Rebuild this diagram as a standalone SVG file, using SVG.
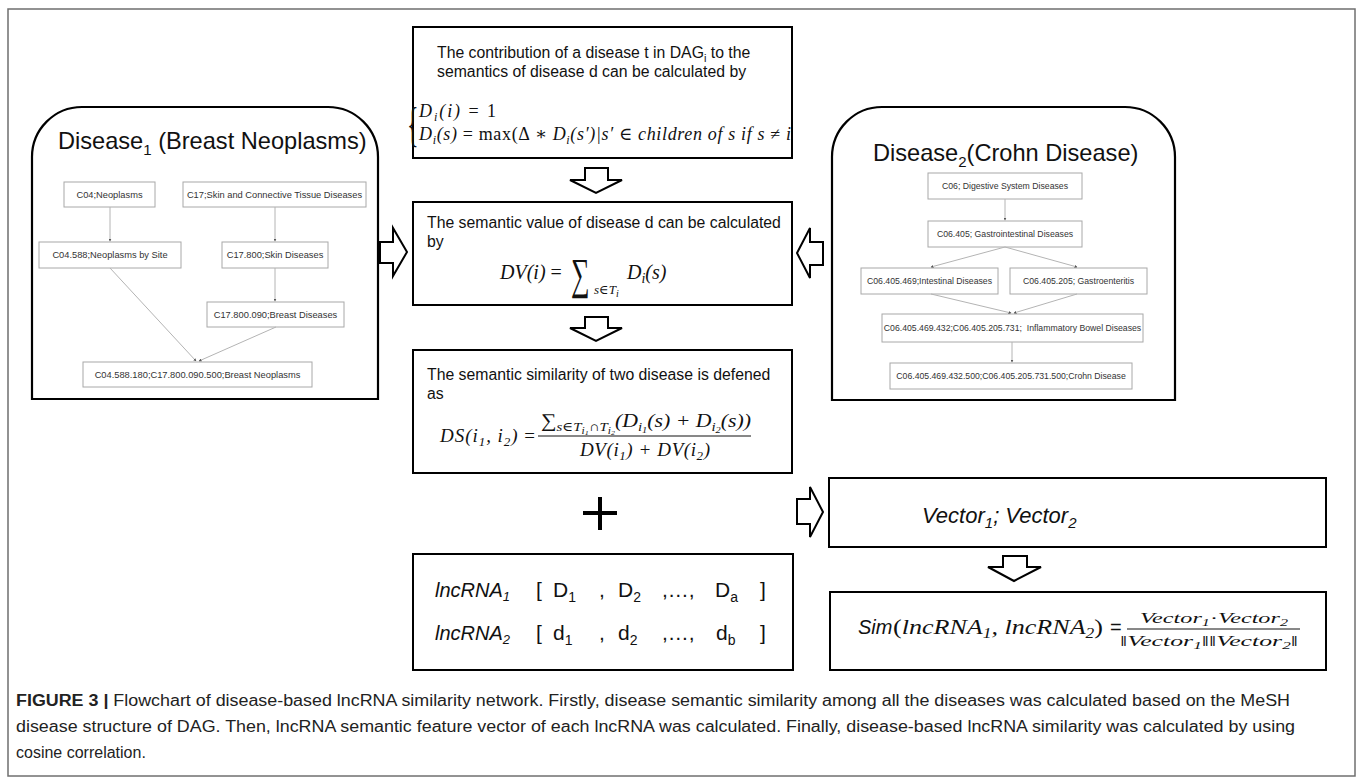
<svg xmlns="http://www.w3.org/2000/svg" width="1360" height="782" viewBox="0 0 1360 782">
<defs>
<style>
.frame{fill:none;stroke:#6f6f6f;stroke-width:1.5}
.box{fill:#fff;stroke:#000;stroke-width:2}
.rbox{fill:#fff;stroke:#000;stroke-width:2.2}
.node{fill:#fff;stroke:#a8a8a8;stroke-width:1}
.nt{font-family:"Liberation Sans",Arial,sans-serif;font-size:9.3px;fill:#333;text-anchor:middle}
.nt2{font-family:"Liberation Sans",Arial,sans-serif;font-size:8.7px;fill:#333;text-anchor:middle}
.edge{stroke:#b4b4b4;stroke-width:1;fill:none;marker-end:url(#tip)}
.arrow{fill:#fff;stroke:#000;stroke-width:2;stroke-linejoin:miter}
.t16{font-family:"Liberation Sans",Arial,sans-serif;font-size:15.8px;fill:#111}
.title{font-family:"Liberation Sans",Arial,sans-serif;font-size:23.6px;fill:#111}
.m{font-family:"Liberation Serif","DejaVu Serif",serif;font-style:italic;fill:#111}
.up{font-style:normal}
.ai{font-family:"Liberation Sans",Arial,sans-serif;font-style:italic;fill:#111}
.as{font-family:"Liberation Sans",Arial,sans-serif;fill:#111}
.cap{font-family:"Liberation Sans",Arial,sans-serif;font-size:16px;fill:#222}
</style>
<marker id="tip" viewBox="0 0 6 6" refX="5" refY="3" markerWidth="3" markerHeight="3" orient="auto">
<path d="M0,0 L6,3 L0,6 Z" fill="#555"/>
</marker>
</defs>
<rect width="1360" height="782" fill="#fff"/>
<rect class="frame" x="8" y="9" width="1347" height="767"/>

<g id="disease1">
<path class="rbox" d="M32,399 L32,157 A50,50 0 0 1 82,107 L328,107 A50,50 0 0 1 378,157 L378,399 Z"/>
<text class="title" x="58" y="149">Disease<tspan font-size="15" dy="6">1</tspan><tspan dy="-6"> (Breast Neoplasms)</tspan></text>
<g id="d1n1"><rect class="node" x="64" y="182" width="91" height="25"/><text class="nt" x="109.5" y="198">C04;Neoplasms</text></g>
<g id="d1n2"><rect class="node" x="183" y="182" width="183" height="25"/><text class="nt" x="274.5" y="198">C17;Skin and Connective Tissue Diseases</text></g>
<g id="d1n3"><rect class="node" x="39" y="242" width="142" height="26"/><text class="nt" x="110" y="258">C04.588;Neoplasms by Site</text></g>
<g id="d1n4"><rect class="node" x="222" y="242" width="106" height="26"/><text class="nt" x="275" y="258">C17.800;Skin Diseases</text></g>
<g id="d1n5"><rect class="node" x="207" y="302" width="137" height="25"/><text class="nt" x="275.5" y="318">C17.800.090;Breast Diseases</text></g>
<g id="d1n6"><rect class="node" x="83" y="362" width="229" height="25"/><text class="nt" x="197.5" y="378">C04.588.180;C17.800.090.500;Breast Neoplasms</text></g>
</g>

<g id="disease2">
<path class="rbox" d="M832,400 L832,157 A50,50 0 0 1 882,107 L1125,107 A50,50 0 0 1 1175,157 L1175,400 Z"/>
<text class="title" x="873" y="161">Disease<tspan font-size="15" dy="6">2</tspan><tspan dy="-6">(Crohn Disease)</tspan></text>
<g id="d2n1"><rect class="node" x="928" y="173" width="154" height="26"/><text class="nt2" x="1005" y="189">C06; Digestive System Diseases</text></g>
<g id="d2n2"><rect class="node" x="928" y="221" width="154" height="26"/><text class="nt2" x="1005" y="237">C06.405; Gastrointestinal Diseases</text></g>
<g id="d2n3"><rect class="node" x="861" y="268" width="137" height="26"/><text class="nt2" x="929.5" y="284">C06.405.469;Intestinal Diseases</text></g>
<g id="d2n4"><rect class="node" x="1010" y="268" width="137" height="26"/><text class="nt2" x="1078.5" y="284">C06.405.205; Gastroenteritis</text></g>
<g id="d2n5"><rect class="node" x="882" y="314" width="261" height="28"/><text class="nt2" x="1012.5" y="331" xml:space="preserve">C06.405.469.432;C06.405.205.731;  Inflammatory Bowel Diseases</text></g>
<g id="d2n6"><rect class="node" x="890" y="363" width="242" height="26"/><text class="nt2" x="1011" y="379">C06.405.469.432.500;C06.405.205.731.500;Crohn Disease</text></g>
</g>

<g id="contribution">
<rect class="box" x="413" y="27" width="379" height="131"/>
<text class="t16" x="437" y="58" font-size="15.2">The contribution of a disease t in DAG<tspan font-size="11" dy="4">i</tspan><tspan dy="-4"> to the</tspan></text>
<text class="t16" x="437" y="77" font-size="15.2">semantics of disease d can be calculated by</text>
<text transform="translate(407,141) scale(0.5,1)" font-family="Liberation Serif,serif" font-size="48" fill="#111">{</text>
<text class="m" x="419" y="117" font-size="18" textLength="77" lengthAdjust="spacing">D<tspan font-size="12" dy="4">i</tspan><tspan dy="-4">(i) </tspan><tspan class="up">= 1</tspan></text>
<text class="m" x="419" y="140" font-size="18" textLength="372" lengthAdjust="spacing">D<tspan font-size="12" dy="4">i</tspan><tspan dy="-4">(s) </tspan><tspan class="up">= max(Δ ∗ </tspan>D<tspan font-size="12" dy="4">i</tspan><tspan dy="-4">(s′)|s′ </tspan><tspan class="up">∈ </tspan>children of s  if s <tspan class="up">≠ </tspan>i</text>
</g>

<g id="semantic-value">
<rect class="box" x="413" y="202" width="379" height="103"/>
<text class="t16" x="427" y="228">The semantic value of disease d can be calculated</text>
<text class="t16" x="427" y="247">by</text>
<text class="m" x="500" y="279" font-size="20">DV(i) <tspan class="up">=</tspan></text>
<text transform="translate(571,289) scale(0.62,1.05)" font-family="Liberation Serif,DejaVu Serif,serif" font-size="42" fill="#111">∑</text>
<text class="m" x="594" y="294" font-size="13">s∈T<tspan font-size="10" dy="3">i</tspan></text>
<text class="m" x="627" y="279" font-size="20">D<tspan font-size="14" dy="4">i</tspan><tspan dy="-4">(s)</tspan></text>
</g>

<g id="semantic-similarity">
<rect class="box" x="413" y="350" width="379" height="123"/>
<text class="t16" x="427" y="380">The semantic similarity of two disease is defened</text>
<text class="t16" x="427" y="399">as</text>
<text class="m" x="440" y="442" font-size="19" textLength="95" lengthAdjust="spacing">DS(i<tspan font-size="13" dy="4">1</tspan><tspan dy="-4">, i</tspan><tspan font-size="13" dy="4">2</tspan><tspan dy="-4">) </tspan><tspan class="up">=</tspan></text>
<text class="m" x="541" y="427" font-size="19" textLength="210" lengthAdjust="spacingAndGlyphs">∑<tspan font-size="13" dy="4">s∈T</tspan><tspan font-size="10" dy="3">i</tspan><tspan font-size="7" dy="1">1</tspan><tspan font-size="13" dy="-4">∩T</tspan><tspan font-size="10" dy="3">i</tspan><tspan font-size="7" dy="1">2</tspan><tspan dy="-8">(D</tspan><tspan font-size="13" dy="4">i</tspan><tspan font-size="9" dy="2">1</tspan><tspan dy="-6">(s) + D</tspan><tspan font-size="13" dy="4">i</tspan><tspan font-size="9" dy="2">2</tspan><tspan dy="-6">(s))</tspan></text>
<line x1="538" y1="436" x2="751" y2="436" stroke="#111" stroke-width="1"/>
<text class="m" x="580" y="456" font-size="19" textLength="130" lengthAdjust="spacing">DV(i<tspan font-size="13" dy="4">1</tspan><tspan dy="-4">) + DV(i</tspan><tspan font-size="13" dy="4">2</tspan><tspan dy="-4">)</tspan></text>
</g>

<g id="plus">
<line x1="583" y1="513" x2="617" y2="513" stroke="#000" stroke-width="4"/>
<line x1="600" y1="497" x2="600" y2="530" stroke="#000" stroke-width="4"/>
</g>

<g id="lncrna-vectors">
<rect class="box" x="413" y="554" width="380" height="116"/>
<text class="ai" x="435" y="597" font-size="20">lncRNA<tspan font-size="13" dy="4">1</tspan></text>
<text class="as" y="597" font-size="21"><tspan x="536">[</tspan><tspan x="553">D</tspan><tspan font-size="14" dy="5">1</tspan><tspan x="599" dy="-5">,</tspan><tspan x="618">D</tspan><tspan font-size="14" dy="5">2</tspan><tspan x="662" dy="-5">,…,</tspan><tspan x="715">D</tspan><tspan font-size="14" dy="5">a</tspan><tspan x="760" dy="-5">]</tspan></text>
<text class="ai" x="435" y="640" font-size="20">lncRNA<tspan font-size="13" dy="4">2</tspan></text>
<text class="as" y="640" font-size="21"><tspan x="536">[</tspan><tspan x="553">d</tspan><tspan font-size="14" dy="5">1</tspan><tspan x="599" dy="-5">,</tspan><tspan x="618">d</tspan><tspan font-size="14" dy="5">2</tspan><tspan x="662" dy="-5">,…,</tspan><tspan x="716">d</tspan><tspan font-size="14" dy="5">b</tspan><tspan x="760" dy="-5">]</tspan></text>
</g>

<g id="vectors">
<rect class="box" x="829" y="478" width="497" height="69"/>
<text class="ai" x="922" y="523" font-size="22">Vector<tspan font-size="15" dy="5">1</tspan><tspan dy="-5">; Vector</tspan><tspan font-size="15" dy="5">2</tspan></text>
</g>

<g id="similarity">
<rect class="box" x="830" y="592" width="496" height="78"/>
<text class="ai" x="858" y="634" font-size="20">Sim</text>
<text class="m" x="893" y="634" font-size="21" textLength="210" lengthAdjust="spacingAndGlyphs"><tspan class="up">(</tspan>lncRNA<tspan font-size="14" dy="4">1</tspan><tspan dy="-4">, lncRNA</tspan><tspan font-size="14" dy="4">2</tspan><tspan dy="-4" class="up">)</tspan></text>
<text class="as" x="1110" y="634" font-size="20">=</text>
<line x1="1127" y1="629" x2="1300" y2="629" stroke="#111" stroke-width="1"/>
<text class="m" x="1140" y="623" font-size="15" textLength="148" lengthAdjust="spacingAndGlyphs">Vector<tspan font-size="10" dy="3">1</tspan><tspan dy="-3" class="up">·</tspan>Vector<tspan font-size="10" dy="3">2</tspan></text>
<text class="m" x="1120" y="646" font-size="15" textLength="178" lengthAdjust="spacingAndGlyphs"><tspan class="up">‖</tspan>Vector<tspan font-size="10" dy="3">1</tspan><tspan dy="-3" class="up">‖‖</tspan>Vector<tspan font-size="10" dy="3">2</tspan><tspan dy="-3" class="up">‖</tspan></text>
</g>

<g id="connectors">
<path class="edge" d="M110,207 L110,241"/>
<path class="edge" d="M275,207 L275,241"/>
<path class="edge" d="M275,268 L275,301"/>
<path class="edge" d="M110,268 L196,361"/>
<path class="edge" d="M276,327 L199,361"/>
<path class="edge" d="M1005,199 L1005,220"/>
<path class="edge" d="M1005,247 L931,267"/>
<path class="edge" d="M1005,247 L1077,267"/>
<path class="edge" d="M931,294 L1011,313"/>
<path class="edge" d="M1077,294 L1014,313"/>
<path class="edge" d="M1012,342 L1012,362"/>
<polygon class="arrow" points="380,242 393,242 393,228 407,252 393,276 393,263 380,263"/>
<polygon class="arrow" points="823,242 810,242 810,228 797,253 810,278 810,265 823,265"/>
<polygon class="arrow" points="585,168 608,168 608,180 622,180 596,193 570,180 585,180"/>
<polygon class="arrow" points="585,317 608,317 608,328 622,328 596,341 570,328 585,328"/>
<polygon class="arrow" points="797,499 810,499 810,487 823,512 810,537 810,524 797,524"/>
<polygon class="arrow" points="1003,556 1027,556 1027,567 1041,567 1014,581 988,567 1003,567"/>
</g>

<g id="caption">
<text class="cap" x="16" y="706" textLength="1274" lengthAdjust="spacingAndGlyphs"><tspan font-weight="bold">FIGURE 3 |</tspan> Flowchart of disease-based lncRNA similarity network. Firstly, disease semantic similarity among all the diseases was calculated based on the MeSH</text>
<text class="cap" x="16" y="732" textLength="1279" lengthAdjust="spacingAndGlyphs">disease structure of DAG. Then, lncRNA semantic feature vector of each lncRNA was calculated. Finally, disease-based lncRNA similarity was calculated by using</text>
<text class="cap" x="16" y="758">cosine correlation.</text>
</g>
</svg>
